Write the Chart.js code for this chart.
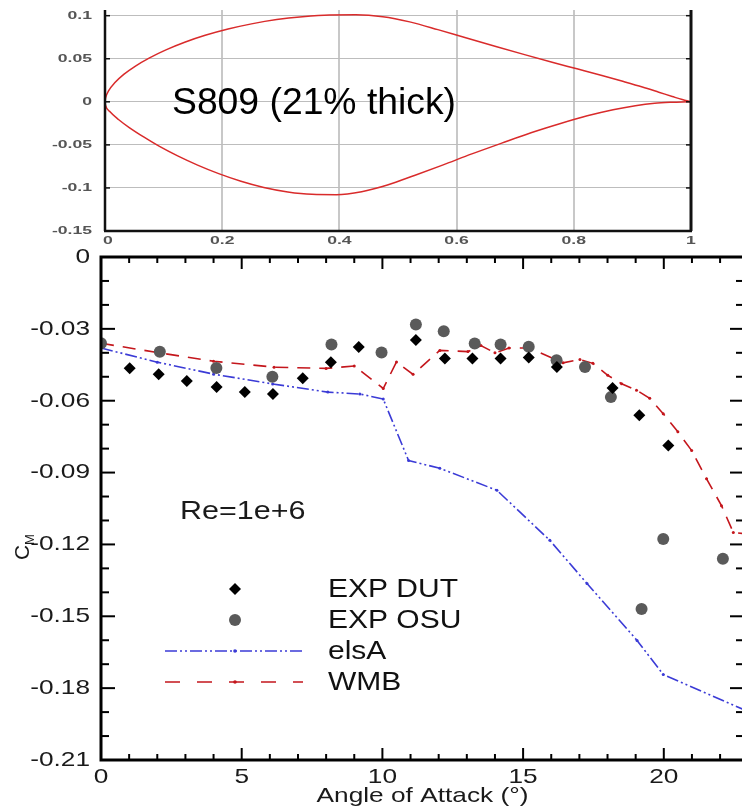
<!DOCTYPE html>
<html>
<head>
<meta charset="utf-8">
<script src="https://cdn.jsdelivr.net/npm/chart.js@4.4.1/dist/chart.umd.min.js"></script>
<style>
  html, body { margin: 0; padding: 0; background: #fff; overflow: hidden; width: 742px; height: 809px; }
  #foil { position: absolute; left: 0; top: 0; }
  #cm { position: absolute; left: 0; top: 245px; }
</style>
</head>
<body>
<canvas id="foil" width="742" height="250"></canvas>
<canvas id="cm" width="770" height="564"></canvas>
<script>
// S809 airfoil shape
const upperX = [0, 0.001, 0.006, 0.017, 0.032, 0.052, 0.076, 0.104, 0.136, 0.171, 0.21, 0.25, 0.293, 0.337, 0.383, 0.428, 0.474, 0.52, 0.568, 0.617, 0.667, 0.716, 0.763, 0.807, 0.848, 0.885, 0.917, 0.945, 0.968, 0.985, 1.0];
const upperY = [0, 0.0045, 0.0126, 0.0223, 0.0318, 0.0415, 0.051, 0.0603, 0.0692, 0.0772, 0.0845, 0.0905, 0.0955, 0.0988, 0.1008, 0.101, 0.0988, 0.0928, 0.0838, 0.074, 0.0642, 0.0548, 0.046, 0.038, 0.0305, 0.0235, 0.0172, 0.0112, 0.0062, 0.0026, 0];
const lowerX = [0, 0.001, 0.009, 0.023, 0.042, 0.066, 0.093, 0.124, 0.158, 0.194, 0.232, 0.271, 0.312, 0.353, 0.395, 0.438, 0.482, 0.528, 0.576, 0.626, 0.677, 0.727, 0.776, 0.823, 0.867, 0.905, 0.938, 0.965, 0.985, 1.0];
const lowerY = [0, -0.0042, -0.0118, -0.0205, -0.0302, -0.0408, -0.0518, -0.0628, -0.0735, -0.0834, -0.0922, -0.0994, -0.1046, -0.1074, -0.1078, -0.1043, -0.0965, -0.0855, -0.0735, -0.0605, -0.048, -0.036, -0.0255, -0.0163, -0.0092, -0.0046, -0.0018, -0.0006, -0.0001, 0];
const foilXTicks = [0, 0.2, 0.4, 0.6, 0.8, 1];
const foilXLabels = ["0", "0.2", "0.4", "0.6", "0.8", "1"];
const foilYTicks = [0.1, 0.05, 0, -0.05, -0.1, -0.15];
const foilYLabels = ["0.1", "0.05", "0", "-0.05", "-0.1", "-0.15"];

// moment coefficient vs angle of attack
const dutAoa = [1.02, 2.05, 3.05, 4.11, 5.11, 6.11, 7.17, 8.17, 9.16, 11.19, 12.22, 13.2, 14.2, 15.2, 16.2, 18.18, 19.13, 20.16];
const dutCm = [-0.0464, -0.0489, -0.0518, -0.0543, -0.0564, -0.0572, -0.0506, -0.0439, -0.0376, -0.0347, -0.0424, -0.0424, -0.0424, -0.042, -0.0459, -0.0547, -0.0661, -0.0787];
const osuAoa = [0, 2.09, 4.1, 6.09, 8.19, 9.97, 11.19, 12.18, 13.28, 14.2, 15.2, 16.19, 17.2, 18.12, 19.21, 19.98, 22.1];
const osuCm = [-0.036, -0.0396, -0.0463, -0.05, -0.0365, -0.0399, -0.0282, -0.031, -0.0361, -0.0365, -0.0375, -0.0431, -0.0459, -0.0585, -0.147, -0.1177, -0.126];
const elsaAoa = [0, 2, 4, 6.1, 8.06, 9.2, 10.03, 10.93, 12.04, 14.07, 15.95, 17.27, 19.05, 19.98, 22.85];
const elsaCm = [-0.038, -0.0439, -0.0489, -0.053, -0.0564, -0.0572, -0.0593, -0.085, -0.0882, -0.0974, -0.1183, -0.1363, -0.1601, -0.1743, -0.189];
const wmbAoa = [0, 2.06, 4.0, 6.15, 8.0, 9.0, 10.03, 10.5, 11.09, 12.04, 13.04, 13.5, 14.0, 14.5, 15.24, 16.42, 17.02, 17.48, 18.01, 18.5, 19.03, 19.5, 19.98, 20.5, 20.99, 21.52, 22.05, 22.47, 22.85];
const wmbCm = [-0.036, -0.04, -0.0435, -0.046, -0.0465, -0.0455, -0.0549, -0.0438, -0.049, -0.039, -0.0395, -0.037, -0.04, -0.038, -0.038, -0.0442, -0.0428, -0.0444, -0.0494, -0.0529, -0.0556, -0.059, -0.0654, -0.073, -0.0808, -0.0926, -0.1038, -0.115, -0.1155];
const aoaTicks = [0, 5, 10, 15, 20];
const aoaLabels = ["0", "5", "10", "15", "20"];
const cmTicks = [0, -0.03, -0.06, -0.09, -0.12, -0.15, -0.18, -0.21];
const cmLabels = ["0", "-0.03", "-0.06", "-0.09", "-0.12", "-0.15", "-0.18", "-0.21"];

const FONT = '"Liberation Sans", Arial, sans-serif';
const BLUE = "#3b3bd6";
const RED = "#c4161c";

function pts(xs, ys) {
  return xs.map((v, i) => ({ x: v, y: ys[i] }));
}

// text stretched sideways, the reference is a bit wide
function wideText(ctx, text, x, y, align, sx) {
  ctx.save();
  ctx.translate(x, y);
  ctx.scale(sx, 1);
  ctx.textAlign = align;
  ctx.fillText(text, 0, 0);
  ctx.restore();
}

function seg(ctx, x1, y1, x2, y2) {
  ctx.beginPath();
  ctx.moveTo(x1, y1);
  ctx.lineTo(x2, y2);
  ctx.stroke();
}

function setTicks(list) {
  return (s) => { s.ticks = list.map((v) => ({ value: v })); };
}

// ---- top: airfoil ----
const foilPlugin = {
  id: "foilFrame",
  afterDraw(chart) {
    const { ctx, chartArea: a, scales: { x, y } } = chart;
    ctx.save();
    ctx.strokeStyle = "#111";
    ctx.lineWidth = 2.5;
    seg(ctx, a.left, a.top, a.left, a.bottom);
    seg(ctx, a.left - 1, a.bottom, a.right + 1, a.bottom);
    ctx.lineWidth = 3;
    seg(ctx, a.right, a.top, a.right, a.bottom);
    ctx.lineWidth = 1.5;
    foilYTicks.forEach((v) => {
      const py = y.getPixelForValue(v);
      seg(ctx, a.left, py, a.left + 5, py);
      seg(ctx, a.right, py, a.right - 5, py);
    });
    ctx.fillStyle = "#555";
    ctx.font = "bold 11px " + FONT;
    ctx.textBaseline = "middle";
    foilYTicks.forEach((v, i) => {
      wideText(ctx, foilYLabels[i], a.left - 13, y.getPixelForValue(v), "right", 1.6);
    });
    foilXTicks.forEach((v, i) => {
      wideText(ctx, foilXLabels[i], x.getPixelForValue(v) + (i === 0 ? 3 : 0), a.bottom + 10, "center", 1.6);
    });
    ctx.fillStyle = "#000";
    ctx.font = "37px " + FONT;
    ctx.textBaseline = "alphabetic";
    const label = "S809 (21% thick)";
    const w = ctx.measureText(label).width;
    wideText(ctx, label, 172, 114, "left", 284 / w);
    ctx.restore();
  },
};

new Chart(document.getElementById("foil"), {
  type: "line",
  data: {
    datasets: [
      { data: pts(upperX, upperY), borderColor: "#d92b2b", borderWidth: 1.5, pointRadius: 0, cubicInterpolationMode: "monotone" },
      { data: pts(lowerX, lowerY), borderColor: "#d92b2b", borderWidth: 1.5, pointRadius: 0, cubicInterpolationMode: "monotone" },
    ],
  },
  options: {
    responsive: false,
    animation: false,
    layout: { padding: { left: 0, top: 10, right: 51, bottom: 0 } },
    plugins: { legend: { display: false }, tooltip: { enabled: false } },
    scales: {
      x: {
        type: "linear", min: 0, max: 1,
        afterBuildTicks: setTicks(foilXTicks),
        afterFit: (s) => { s.height = 19; },
        ticks: { display: false },
        border: { display: false },
        grid: { color: "#c8c8c8", lineWidth: 2, drawTicks: false, borderDash: [1, 3] },
      },
      y: {
        type: "linear", min: -0.15, max: 0.1066,
        afterBuildTicks: setTicks(foilYTicks),
        afterFit: (s) => { s.width = 105; },
        ticks: { display: false },
        border: { display: false },
        grid: { color: "#bdbdbd", lineWidth: 1, drawTicks: false },
      },
    },
  },
  plugins: [foilPlugin],
});

// ---- bottom: C_M ----
const cmPlugin = {
  id: "cmFrame",
  afterDraw(chart) {
    const { ctx, chartArea: a, scales: { x, y } } = chart;
    ctx.save();
    ctx.strokeStyle = "#000";
    ctx.lineWidth = 3;
    ctx.strokeRect(a.left, a.top, a.right - a.left, a.bottom - a.top);

    // inward tick marks on all four sides
    ctx.lineWidth = 2;
    for (let d = 0; d <= 23; d++) {
      const px = x.getPixelForValue(d);
      if (px > a.right) break;
      const len = d % 5 === 0 ? 12 : 6;
      seg(ctx, px, a.bottom, px, a.bottom - len);
      seg(ctx, px, a.top, px, a.top + len);
    }
    for (let k = 0; k <= 21; k++) {
      const py = y.getPixelForValue(-k / 100);
      const len = k % 3 === 0 ? 14 : 8;
      seg(ctx, a.left, py, a.left + len, py);
      seg(ctx, a.right, py, a.right - len, py);
    }

    ctx.fillStyle = "#1a1a1a";
    ctx.font = "21px " + FONT;
    ctx.textBaseline = "middle";
    cmTicks.forEach((v, i) => {
      wideText(ctx, cmLabels[i], a.left - 11, y.getPixelForValue(v), "right", 1.25);
    });
    aoaTicks.forEach((v, i) => {
      wideText(ctx, aoaLabels[i], x.getPixelForValue(v), a.bottom + 17, "center", 1.25);
    });
    wideText(ctx, "Angle of Attack (°)", (a.left + a.right) / 2, a.bottom + 36, "center", 1.25);

    // C_M, rotated
    ctx.save();
    ctx.translate(29, 303);
    ctx.rotate(-Math.PI / 2);
    ctx.textBaseline = "alphabetic";
    ctx.font = "21px " + FONT;
    ctx.textAlign = "left";
    ctx.fillText("C", -12, 0);
    ctx.font = "13px " + FONT;
    ctx.fillText("M", 3, 5);
    ctx.restore();

    ctx.font = "25px " + FONT;
    ctx.textBaseline = "middle";
    wideText(ctx, "Re=1e+6", 180, 267, "left", 1.22);

    // legend
    const lx = 235, tx = 328;
    const rows = [344, 375, 406, 437];
    ctx.fillStyle = "#000";
    ctx.beginPath();
    ctx.moveTo(lx, rows[0] - 6); ctx.lineTo(lx + 6, rows[0]);
    ctx.lineTo(lx, rows[0] + 6); ctx.lineTo(lx - 6, rows[0]);
    ctx.closePath(); ctx.fill();
    ctx.fillStyle = "#5a5a5a";
    ctx.beginPath(); ctx.arc(lx, rows[1], 6, 0, Math.PI * 2); ctx.fill();
    ctx.lineWidth = 1.6;
    ctx.strokeStyle = BLUE;
    ctx.setLineDash([12, 3, 2, 3, 2, 3]);
    seg(ctx, 165, rows[2], 303, rows[2]);
    ctx.strokeStyle = RED;
    ctx.setLineDash([15, 17]);
    seg(ctx, 165, rows[3], 303, rows[3]);
    ctx.setLineDash([]);
    ctx.fillStyle = BLUE;
    ctx.beginPath(); ctx.arc(lx, rows[2], 1.8, 0, Math.PI * 2); ctx.fill();
    ctx.fillStyle = RED;
    ctx.beginPath(); ctx.arc(lx, rows[3], 1.8, 0, Math.PI * 2); ctx.fill();

    ctx.fillStyle = "#111";
    ctx.font = "25px " + FONT;
    ["EXP DUT", "EXP OSU", "elsA", "WMB"].forEach((t, i) => {
      wideText(ctx, t, tx, rows[i] + 1, "left", 1.2);
    });
    ctx.restore();
  },
};

new Chart(document.getElementById("cm"), {
  type: "line",
  data: {
    datasets: [
      { label: "EXP DUT", data: pts(dutAoa, dutCm), showLine: false, pointStyle: "rectRot", pointRadius: 6, backgroundColor: "#000", borderColor: "#000", borderWidth: 0 },
      { label: "EXP OSU", data: pts(osuAoa, osuCm), showLine: false, pointStyle: "circle", pointRadius: 6, backgroundColor: "#5a5a5a", borderColor: "#5a5a5a", borderWidth: 0 },
      { label: "elsA", data: pts(elsaAoa, elsaCm), borderColor: BLUE, borderWidth: 1.6, borderDash: [12, 3, 2, 3, 2, 3], pointRadius: 1.5, pointBackgroundColor: BLUE, pointBorderWidth: 0, tension: 0 },
      { label: "WMB", data: pts(wmbAoa, wmbCm), borderColor: RED, borderWidth: 1.6, borderDash: [13, 9], pointRadius: 1.5, pointBackgroundColor: RED, pointBorderWidth: 0, tension: 0 },
    ],
  },
  options: {
    responsive: false,
    animation: false,
    layout: { padding: { left: 0, top: 12, right: 26, bottom: 0 } },
    plugins: { legend: { display: false }, tooltip: { enabled: false } },
    scales: {
      x: {
        type: "linear", min: 0, max: 22.85,
        afterFit: (s) => { s.height = 49; },
        ticks: { display: false },
        border: { display: false },
        grid: { display: false },
      },
      y: {
        type: "linear", min: -0.21, max: 0,
        afterFit: (s) => { s.width = 101; },
        ticks: { display: false },
        border: { display: false },
        grid: { display: false },
      },
    },
  },
  plugins: [cmPlugin],
});
</script>
</body>
</html>
